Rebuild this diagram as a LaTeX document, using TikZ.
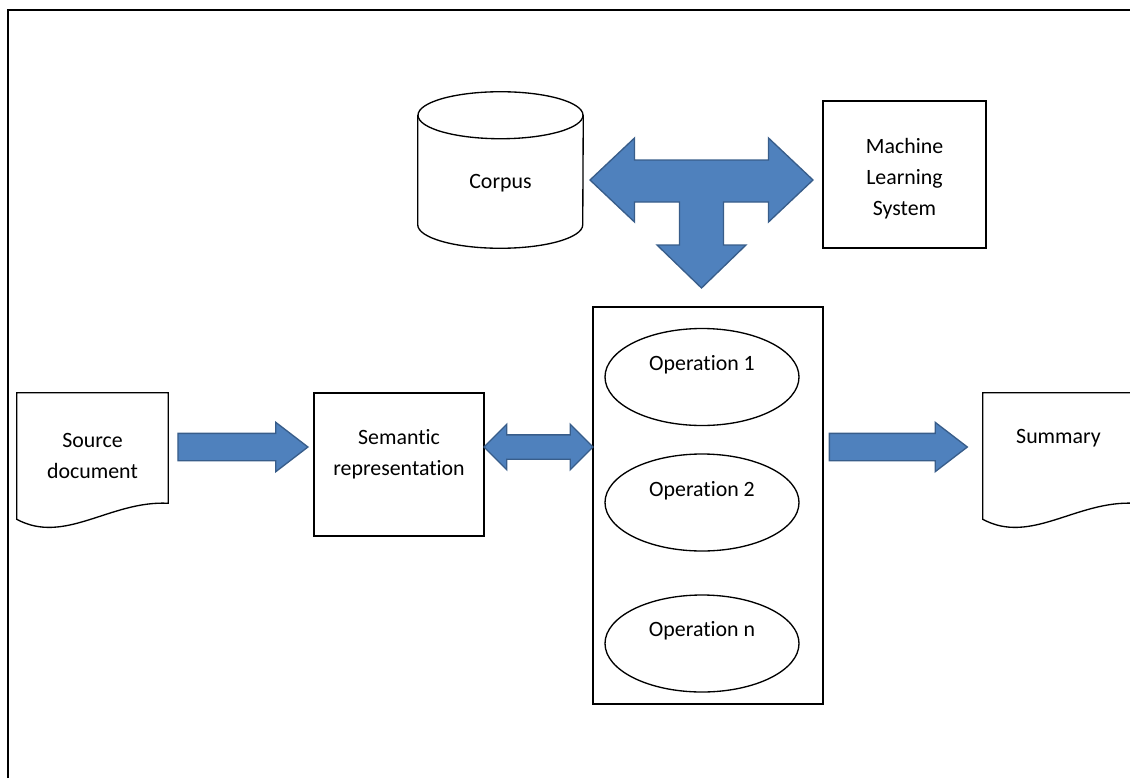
\documentclass[tikz,border=0pt]{standalone}
\usepackage{fontspec}
\setmainfont{Carlito}[Ligatures=NoCommon]
\usetikzlibrary{shapes.geometric, shapes.arrows, positioning, calc}

\definecolor{azulfill}{HTML}{4F81BD}
\definecolor{azulborde}{HTML}{385D8A}

\begin{document}
\begin{tikzpicture}[
		x=0.75pt, y=-0.75pt,
		font=\fontsize{16.4}{23}\selectfont,
		% --- ESTILOS DE LOS BLOQUES ---
		box_plain/.style = {draw=black, rectangle, line width=1pt, align=center, inner sep=0pt},
		store_area/.style = {rectangle, minimum width=123.75pt, minimum height=117pt, inner sep=0pt},
		op_ellipse/.style = {draw=black, ellipse, line width=1pt, minimum width=145.5pt, minimum height=72.75pt, inner sep=0pt},
		doc_area/.style = {rectangle, minimum width=113.25pt, minimum height=94.5pt, align=center, inner sep=0pt},
		shape_line/.style = {draw=black, line width=1pt},
		txt/.style = {align=center, inner sep=0pt},
		% --- ESTILOS DE LAS FLECHAS DE BLOQUE ---
		fat_arrow/.style = {single arrow, draw=azulborde, fill=azulfill, line width=1pt, inner sep=0pt, text height=19.5pt, text depth=0pt, single arrow head extend=8.25pt, single arrow tip angle=75},
		fat_double/.style = {double arrow, draw=azulborde, fill=azulfill, line width=1pt, inner sep=0pt, text height=17.25pt, text depth=0pt, double arrow head extend=7.9pt, double arrow tip angle=90},
		fat_tee/.style = {draw=azulborde, fill=azulfill, line width=1pt, line join=miter},
		marco/.style = {draw=black, line width=1.1pt}
		]
		
		\useasboundingbox (0,0) rectangle (1130,778);
		\clip (0,0) rectangle (1130,778);
		
		% Marco exterior (solo arriba e izquierda)
		\draw [marco] (8,778) -- (8,10) -- (1130,10);
		
		% =========================================================================
		% 1. BLOQUES SUPERIORES
		% =========================================================================
		% Corpus (cilindro dibujado a mano sobre un nodo vacio)
		\node [store_area] (crp) at (500.5,170) {};
		\draw [shape_line] ($(crp.north)+(0,23.5)$) ellipse [x radius=61.875pt, y radius=17.625pt];
		\draw [shape_line] ($(crp.north west)+(0,23.5)$) -- ($(crp.south west)+(0,-23.5)$)
		arc [start angle=180, end angle=360, x radius=61.875pt, y radius=17.625pt] -- ($(crp.north east)+(0,23.5)$);
		\node [txt] (crp_txt) at ([yshift=-9.75pt]crp.center) {Corpus};
		
		\node [box_plain, minimum width=122.25pt, minimum height=110.25pt] (mls) at (904.5,174.5) {};
		\node [txt] (mls_txt) at ([yshift=-3pt]mls.center) {Machine\\Learning\\System};
		
		% =========================================================================
		% 2. FILA CENTRAL
		% =========================================================================
		% Documento fuente
		\node [doc_area] (src) at (92.5,456) {Source\\document};
		\draw [shape_line] (src.south west) -- (src.north west) -- (src.north east) -- ([yshift=12pt]src.south east)
		.. controls ($(src.south east)+(-58,-19)$) and ($(src.south west)+(48,26)$) .. (src.south west) -- cycle;
		
		% Representacion semantica
		\node [box_plain, minimum width=127.5pt, minimum height=107.25pt] (sem) at (399,464.5) {};
		\node [txt] (sem_txt) at ([yshift=7.5pt]sem.center) {Semantic\\representation};
		
		% Caja de operaciones
		\node [box_plain, minimum width=172.5pt, minimum height=297.75pt] (ops) at (708,505.5) {};
		\node [op_ellipse] (op1) at (702,377) {};
		\node [op_ellipse] (op2) at (702,502.5) {};
		\node [op_ellipse] (opn) at (702,643.5) {};
		\node [txt] (op1_txt) at ([yshift=9pt]op1.center) {Operation 1};
		\node [txt] (op2_txt) at ([yshift=9pt]op2.center) {Operation 2};
		\node [txt] (opn_txt) at ([yshift=9.75pt]opn.center) {Operation n};
		
		% Resumen (cortado por el borde derecho)
		\node [doc_area] (sum) at (1058.5,456) {};
		\node [txt] (sum_txt) at ([yshift=13.5pt]sum.center) {Summary};
		\draw [shape_line] (sum.south west) -- (sum.north west) -- (sum.north east) -- ([yshift=12pt]sum.south east)
		.. controls ($(sum.south east)+(-58,-19)$) and ($(sum.south west)+(48,26)$) .. (sum.south west) -- cycle;
		
		% =========================================================================
		% 3. FLECHAS DE BLOQUE
		% =========================================================================
		\coordinate (flow) at (0,447);
		
		\coordinate (in_tail) at (src.east |- flow);
		\node [fat_arrow, minimum height=97.5pt, anchor=tail] (a_in) at ([xshift=6.75pt]in_tail) {};
		
		\coordinate (bi_mid) at ($(sem.east)!0.5!(ops.west)$);
		\node [fat_double, minimum height=81.75pt] (a_bi) at (bi_mid |- flow) {};
		
		\coordinate (out_tail) at (ops.east |- flow);
		\node [fat_arrow, minimum height=103.5pt, anchor=tail] (a_out) at ([xshift=3.75pt]out_tail) {};
		
		% Flecha en T entre corpus, sistema y operaciones
		\coordinate (tee) at (701.5,180);
		\draw [fat_tee, shift={(tee)}] (-111.5,0) -- (-67,-42) -- (-67,-20) -- (67,-20) -- (67,-42) -- (111.5,0)
		-- (67,42) -- (67,22) -- (22,22) -- (22,65) -- (44.5,65) -- (0,108) -- (-44.5,65) -- (-22,65)
		-- (-22,22) -- (-67,22) -- (-67,42) -- cycle;
		
	\end{tikzpicture}
\end{document}
